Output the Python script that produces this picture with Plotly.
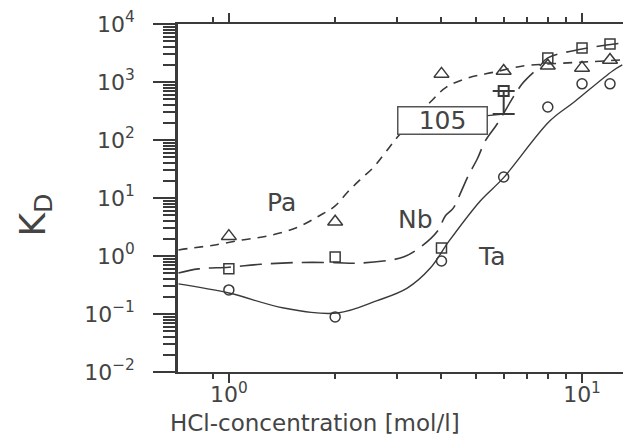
import plotly.graph_objects as go

# ---- data ----
hcl_pa = [1.0, 2.0, 4.0, 6.0, 8.0, 10.0, 12.0]
kd_pa = [2.2, 3.9, 1380, 1550, 1900, 1750, 2400]

hcl_nb = [1.0, 2.0, 4.0, 8.0, 10.0, 12.0]
kd_nb = [0.6, 0.96, 1.37, 2600, 3870, 4540]

hcl_ta = [1.0, 2.0, 4.0, 6.0, 8.0, 10.0, 12.0]
kd_ta = [0.26, 0.089, 0.82, 23, 370, 930, 930]

# element 105 point: value and lower bar
hcl_105 = [6.0]
kd_105 = [700]
kd_105_low = [280]

# fitted curves
pa_fit_x = [0.72, 0.77, 0.895, 1.09, 1.31, 1.56, 1.80, 2.0, 2.17, 2.36, 2.57, 2.78, 3.02,
            3.72, 4.13, 4.76, 5.64, 6.86, 8.0, 10.0, 13.0]
pa_fit_y = [1.27, 1.35, 1.52, 1.89, 2.26, 3.1, 4.9, 7.3, 12.7, 21, 34, 62, 117,
            452, 815, 1175, 1480, 1900, 2040, 2200, 2400]

nb_fit_x = [0.72, 0.82, 1.0, 1.23, 1.53, 2.0, 2.28, 2.74, 3.12, 3.49, 3.9, 4.1, 4.32,
            4.55, 4.76, 5.05, 5.32, 5.75, 6.77, 7.51, 8.0, 10.0, 13.0]
nb_fit_y = [0.51, 0.6, 0.64, 0.72, 0.77, 0.77, 0.75, 0.82, 0.96, 1.43, 2.7, 4.9, 6.7,
            13, 24, 47, 96, 189, 930, 1740, 2600, 3700, 4700]

ta_fit_x = [0.72, 1.0, 1.43, 2.03, 2.63, 3.2, 3.72, 4.2, 5.15, 5.98, 8.1, 9.5, 12.2, 13.0]
ta_fit_y = [0.33, 0.23, 0.127, 0.104, 0.17, 0.28, 0.62, 1.8, 8.9, 22, 212, 452, 1550, 1970]

y_tickvals = [1e-2, 1e-1, 1e0, 1e1, 1e2, 1e3, 1e4]
y_ticktext = ["10<sup>−2</sup>", "10<sup>−1</sup>", "10<sup>0</sup>", "10<sup>1</sup>",
              "10<sup>2</sup>", "10<sup>3</sup>", "10<sup>4</sup>"]
x_tickvals = [1, 10]
x_ticktext = ["10<sup>0</sup>", "10<sup>1</sup>"]

x_minor = [0.9, 2, 3, 4, 5, 6, 7, 8, 9]
y_minor = [m * 10.0 ** e for e in range(-2, 4) for m in range(2, 10)]

INK = "#3a3a3a"
FONT = "DejaVu Sans"

fig = go.Figure()

fig.add_trace(go.Scatter(x=pa_fit_x, y=pa_fit_y, mode="lines", line_shape="spline",
                         line=dict(color=INK, width=1.6, dash="9px,7px")))
fig.add_trace(go.Scatter(x=nb_fit_x, y=nb_fit_y, mode="lines", line_shape="spline",
                         line=dict(color=INK, width=1.6, dash="22px,9px")))
fig.add_trace(go.Scatter(x=ta_fit_x, y=ta_fit_y, mode="lines", line_shape="spline",
                         line=dict(color=INK, width=1.4)))

fig.add_trace(go.Scatter(x=hcl_pa, y=kd_pa, mode="markers",
                         marker=dict(symbol="triangle-up-open", size=13, color=INK,
                                     line=dict(width=1.5))))
fig.add_trace(go.Scatter(x=hcl_nb, y=kd_nb, mode="markers",
                         marker=dict(symbol="square-open", size=10, color=INK,
                                     line=dict(width=1.5))))
fig.add_trace(go.Scatter(x=hcl_ta, y=kd_ta, mode="markers",
                         marker=dict(symbol="circle-open", size=10, color=INK,
                                     line=dict(width=1.5))))

fig.add_trace(go.Scatter(
    x=hcl_105, y=kd_105, mode="markers",
    marker=dict(symbol="square-open", size=10, color=INK, line=dict(width=2)),
    error_y=dict(type="data", symmetric=False, array=[0],
                 arrayminus=[kd_105[0] - kd_105_low[0]],
                 color=INK, thickness=2, width=11)))

fig.update_layout(
    width=623, height=435,
    margin=dict(l=178, r=0, t=24, b=63),
    paper_bgcolor="white", plot_bgcolor="white",
    showlegend=False,
    font=dict(family=FONT, color="#444", size=22),
)

fig.update_xaxes(
    type="log", range=[-0.144, 1.116],
    tickmode="array", tickvals=x_tickvals, ticktext=x_ticktext,
    ticks="outside", ticklen=9, tickwidth=2, tickcolor=INK,
    minor=dict(tickmode="array", tickvals=x_minor, ticks="outside", ticklen=5,
               tickwidth=2, tickcolor=INK, showgrid=False),
    showline=True, linecolor=INK, linewidth=2, mirror="ticks",
    showgrid=False, zeroline=False,
    ticklabelstandoff=-7,
    tickfont=dict(family=FONT, size=22, color="#444"),
)
fig.update_yaxes(
    type="log", range=[-2, 4],
    tickmode="array", tickvals=y_tickvals, ticktext=y_ticktext,
    ticks="outside", ticklen=22, tickwidth=2, tickcolor=INK,
    minor=dict(tickmode="array", tickvals=y_minor, ticks="outside", ticklen=12,
               tickwidth=1.5, tickcolor=INK, showgrid=False),
    showline=True, linecolor=INK, linewidth=2.5,
    showgrid=False, zeroline=False,
    ticklabelstandoff=14,
    tickfont=dict(family=FONT, size=22, color="#444"),
)

ann_font = dict(family=FONT, size=25, color="#444")
fig.add_annotation(x=0.150, y=0.931, xref="x", yref="y", text="Pa", showarrow=False,
                   font=ann_font)
fig.add_annotation(x=0.528, y=0.638, xref="x", yref="y", text="Nb", showarrow=False,
                   font=ann_font)
fig.add_annotation(x=0.745, y=0.0, xref="x", yref="y", text="Ta", showarrow=False,
                   font=ann_font)
# label box for element 105, connected to the lower bar
fig.add_annotation(x=0.778, y=2.447, xref="x", yref="y", text="105",
                   showarrow=True, arrowhead=0, arrowwidth=1.3, arrowcolor=INK,
                   ax=-61, ay=6, font=dict(family=FONT, size=25, color="#444"),
                   bordercolor="#555", borderwidth=1.5, borderpad=1,
                   bgcolor="white", width=86, height=24)

fig.add_annotation(x=-0.022, y=-0.146, xref="paper", yref="paper",
                   text="HCl-concentration [mol/l]", showarrow=False,
                   xanchor="left", yanchor="middle",
                   font=dict(family=FONT, size=23, color="#444"))
fig.add_annotation(x=-0.321, y=0.45, xref="paper", yref="paper",
                   text="K<sub>D</sub>", showarrow=False, textangle=-90,
                   xanchor="center", yanchor="middle",
                   font=dict(family=FONT, size=36, color="#444"))

fig.write_html("out.html")
